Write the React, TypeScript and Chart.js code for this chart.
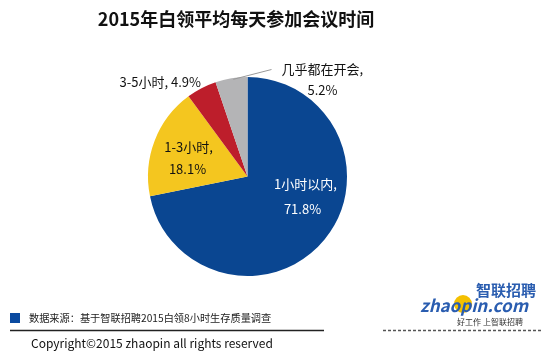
import React, { useEffect, useRef } from "react";
import { Chart, registerables } from "chart.js";

Chart.register(...registerables);

const categories = ["1小时以内", "1-3小时", "3-5小时", "几乎都在开会"];
const values = [71.8, 18.1, 4.9, 5.2];
const colors = ["#0a4691", "#f4c61f", "#bd1e2b", "#b4b4b6"];
const titleText = "2015年白领平均每天参加会议时间";
const sourceText = "数据来源：基于智联招聘2015白领8小时生存质量调查";
const copyrightText = "Copyright©2015 zhaopin all rights reserved";

const FONT = '"Noto Sans CJK SC", "Noto Sans", sans-serif';

const decorPlugin = {
  id: "decor",
  afterDraw(chart: any) {
    const ctx = chart.ctx as CanvasRenderingContext2D;
    const meta = chart.getDatasetMeta(0);
    ctx.save();
    // title
    ctx.fillStyle = "#111";
    ctx.font = `bold 18px ${FONT}`;
    ctx.textAlign = "center";
    ctx.textBaseline = "middle";
    ctx.fillText(titleText, 236, 19);

    const fmt = (v: number) => v.toFixed(1) + "%";
    ctx.font = `13px ${FONT}`;
    // blue inside
    const a0 = meta.data[0];
    ctx.fillStyle = "#ffffff";
    ctx.fillText(categories[0] + ",", a0.x + 58, a0.y + 8);
    ctx.fillText(fmt(values[0]), a0.x + 55, a0.y + 33);
    // yellow inside
    const a1 = meta.data[1];
    ctx.fillStyle = "#111";
    ctx.fillText(categories[1] + ",", a1.x - 59, a1.y - 29);
    ctx.fillText(fmt(values[1]), a1.x - 60, a1.y - 7);
    // red outside
    const a2 = meta.data[2];
    ctx.textAlign = "left";
    ctx.fillText(categories[2] + ", " + fmt(values[2]), a2.x - 128, a2.y - 94);
    // gray outside with leader
    const a3 = meta.data[3];
    const mid = (a3.startAngle + a3.endAngle) / 2;
    const ex = a3.x + Math.cos(mid) * a3.outerRadius;
    const ey = a3.y + Math.sin(mid) * a3.outerRadius;
    ctx.strokeStyle = "#999";
    ctx.lineWidth = 1;
    ctx.beginPath();
    ctx.moveTo(ex + 2, ey + 1);
    ctx.lineTo(a3.x + 24, a3.y - 107);
    ctx.stroke();
    ctx.textAlign = "left";
    ctx.fillText(categories[3] + ",", a3.x + 34, a3.y - 107);
    ctx.textAlign = "center";
    ctx.fillText(fmt(values[3]), a3.x + 75, a3.y - 86);

    // footer source
    ctx.fillStyle = "#0a4aa0";
    ctx.fillRect(10, 313, 10, 10);
    ctx.fillStyle = "#222";
    ctx.font = `10.2px ${FONT}`;
    ctx.textAlign = "left";
    ctx.fillText(sourceText, 29, 318);
    // rule
    ctx.strokeStyle = "#222";
    ctx.lineWidth = 1.5;
    ctx.beginPath();
    ctx.moveTo(10, 330.5);
    ctx.lineTo(324, 330.5);
    ctx.stroke();
    ctx.strokeStyle = "#555";
    ctx.setLineDash([3, 2]);
    ctx.beginPath();
    ctx.moveTo(383, 330.5);
    ctx.lineTo(542, 330.5);
    ctx.stroke();
    ctx.setLineDash([]);
    // copyright
    ctx.fillStyle = "#111";
    ctx.font = `12px ${FONT}`;
    ctx.fillText(copyrightText, 31, 343);

    // logo
    ctx.fillStyle = "#f4c000";
    ctx.beginPath();
    ctx.arc(463, 304, 9, 0, Math.PI * 2);
    ctx.fill();
    ctx.fillStyle = "#2a5db0";
    ctx.font = `bold 15px ${FONT}`;
    ctx.textAlign = "center";
    ctx.fillText("智联招聘", 506, 290);
    ctx.font = `bold italic 17px ${FONT}`;
    ctx.fillText("zhaopin.com", 474, 306);
    ctx.fillStyle = "#333";
    ctx.font = `8px ${FONT}`;
    ctx.fillText("好工作 上智联招聘", 490, 322);
    ctx.restore();
  },
};

export default function App() {
  const ref = useRef<HTMLCanvasElement>(null);
  useEffect(() => {
    document.body.style.margin = "0";
    const chart = new Chart(ref.current!, {
      type: "pie",
      data: {
        labels: categories,
        datasets: [
          {
            data: values,
            backgroundColor: colors,
            borderColor: "#ffffff",
            borderWidth: 0,
          },
        ],
      },
      options: {
        responsive: false,
        animation: false,
        layout: { padding: { top: 77, bottom: 81, left: 148, right: 203 } },
        plugins: {
          legend: { display: false },
          tooltip: { enabled: false },
          title: { display: false },
        },
      },
      plugins: [decorPlugin],
    });
    return () => chart.destroy();
  }, []);
  return (
    <div style={{ width: 550, height: 357, background: "#fff" }}>
      <canvas ref={ref} width={550} height={357} style={{ display: "block" }} />
    </div>
  );
}
